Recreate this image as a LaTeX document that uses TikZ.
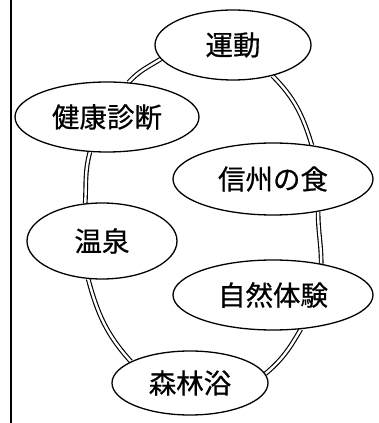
\documentclass[tikz,border=0pt]{standalone}
\usepackage{fontspec}
\newfontfamily\jpfont[FakeBold=0.6]{Noto Sans CJK JP}
\usepackage{tikz}
\usetikzlibrary{shapes,backgrounds}
\tikzstyle{link}=[
	-,
	draw=black,
	double=white,
	double distance=2.4pt,
	line width=1.15pt
]
\tikzstyle{theme}=[
    ellipse,
    draw=black,
    line width=1.3pt,
    fill=white,
    inner sep=0pt,
    font=\jpfont\fontsize{27.5}{30}\selectfont
]

\begin{document}
\begin{tikzpicture}[x=1pt,y=1pt]
\useasboundingbox (0,0) rectangle (379,423);
\node[theme, minimum width=156pt, minimum height=70pt] (undou) at (233,378) {運動};
\node[theme, minimum width=184pt, minimum height=70pt] (kenkou) at (107,306) {健康診断};
\node[theme, minimum width=200pt, minimum height=72pt] (shinshu) at (273,244) {信州の食};
\node[theme, minimum width=150pt, minimum height=76pt] (onsen) at (102,182) {温泉};
\node[theme, minimum width=200pt, minimum height=70pt] (shizen) at (273,128) {自然体験};
\node[theme, minimum width=156pt, minimum height=64pt] (shinrin) at (190,40) {森林浴};

\begin{scope}[on background layer]
\draw[link] (undou.191) to[out=212, in=48] (kenkou.58);
\draw[link] (undou.-38) to[out=-45, in=107] (shinshu.41);
\draw[link] (shinshu.-36) to[out=-90, in=90] (shizen.33);
\draw[link] (shizen.-51) to[out=240, in=40] (shinrin.7);
\draw[link] (shinrin.160) to[out=132, in=-75] (onsen.250);
\draw[link] (onsen.114) to[out=87, in=255] (kenkou.244);
\end{scope}

\draw[line width=1.3pt] (11,0) -- (11,423);
\end{tikzpicture}
\end{document}
